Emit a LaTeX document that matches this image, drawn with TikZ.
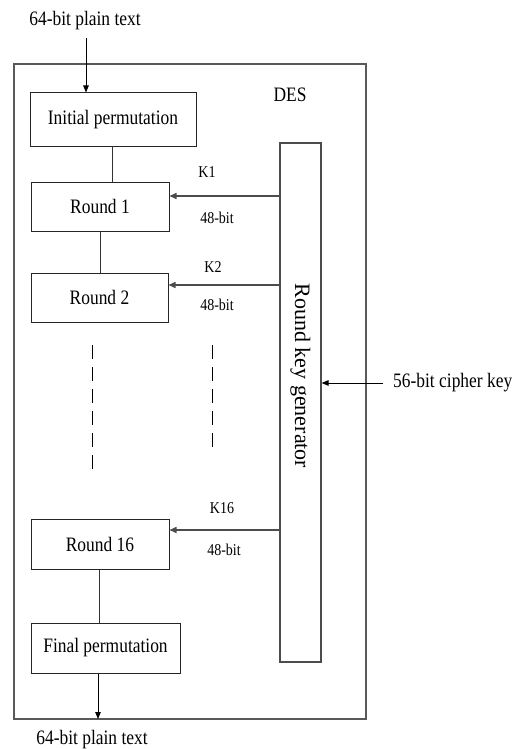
\documentclass[tikz,border=0pt]{standalone}
\usepackage{fontspec}
\setmainfont[FakeStretch=0.85]{Liberation Serif}
\newfontfamily\rotfont{Liberation Serif}
\usetikzlibrary{arrows.meta}
\tikzset{
  box/.style={draw=black!85, line width=1pt, rectangle, inner sep=0pt, font=\fontsize{20.5}{24}\selectfont},
  maintext/.style={inner sep=0pt, font=\fontsize{20.5}{24}\selectfont},
  lbl/.style={inner sep=0pt, font=\fontsize{16.5}{20}\selectfont},
  arr/.style={line width=0.9pt, -{Triangle[length=7pt,width=5.5pt]}},
  keyarr/.style={line width=1.5pt, draw=black!70, -{Triangle[length=7pt,width=6pt]}},
  conn/.style={line width=0.9pt, draw=black!80},
  dashline/.style={line width=1pt, dash pattern=on 14pt off 8pt}
}
\begin{document}
\begin{tikzpicture}[x=1pt,y=-1pt]
\useasboundingbox (0,0) rectangle (511,749);
\fill[white] (0,0) rectangle (511,749);
% outer DES box
\draw[draw=black!65, line width=1.3pt] (14,64) rectangle (366,719);
\node[maintext] (des) at (290,95) {DES};
% boxes
\node[box, minimum width=166pt, minimum height=53pt] (ip) at (113,119.5) {Initial permutation};
\node[box, minimum width=138pt, minimum height=49pt] (r1) at (100,206.5) {Round 1};
\node[box, minimum width=137pt, minimum height=49pt] (r2) at (99.5,297.5) {Round 2};
\node[box, minimum width=138pt, minimum height=50pt] (r16) at (100,544) {Round 16};
\node[box, minimum width=149pt, minimum height=50pt] (fp) at (105.5,648) {Final permutation};
\node[draw=black!70, line width=1.2pt, rectangle, minimum width=41pt, minimum height=519pt, inner sep=0pt] (kg) at (300.5,402.5) {};
\node[inner sep=0pt, rotate=-90, font=\rotfont\fontsize{22}{26}\selectfont] (kgt) at (300.5,376) {Round key generator};
% input / output
\node[maintext] (intext) at (85,21) {64-bit plain text};
\coordinate (inA) at (86,38);
\draw[arr] (inA) -- (inA |- ip.north);
\node[maintext] (outtext) at (92,740) {64-bit plain text};
\coordinate (outA) at (98,719);
\draw[arr] (outA |- fp.south) -- (outA);
% connections
\draw[conn] (112,0 |- ip.south) -- (112,0 |- r1.north);
\draw[conn] (100,0 |- r1.south) -- (100,0 |- r2.north);
\draw[conn] (99,0 |- r16.south) -- (99,0 |- fp.north);
% key arrows
\coordinate (k1y) at (0,196);
\coordinate (k2y) at (0,285);
\coordinate (k16y) at (0,530);
\draw[keyarr] (kg.west |- k1y) -- (r1.east |- k1y);
\draw[keyarr] (kg.west |- k2y) -- (r2.east |- k2y);
\draw[keyarr] (kg.west |- k16y) -- (r16.east |- k16y);
\node[lbl] (k1) at (207,172) {K1};
\node[lbl] (b1) at (217,218) {48-bit};
\node[lbl] (k2) at (213,267) {K2};
\node[lbl] (b2) at (217,305) {48-bit};
\node[lbl] (k16) at (222,508) {K16};
\node[lbl] (b16) at (224,550) {48-bit};
% cipher key
\node[maintext, anchor=west] (ck) at (393,383) {56-bit cipher key};
\coordinate (ckA) at (383,383);
\draw[arr] (ckA) -- (kg.east |- ckA);
% dashed continuation
\coordinate (d1a) at (92,345);
\coordinate (d1b) at (92,472);
\coordinate (d2a) at (212,345);
\coordinate (d2b) at (212,452);
\draw[dashline] (d1a) -- (d1b);
\draw[dashline] (d2a) -- (d2b);
\end{tikzpicture}
\end{document}
